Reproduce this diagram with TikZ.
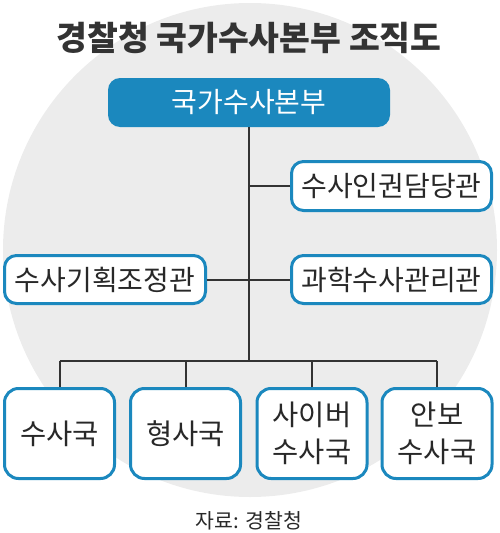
\documentclass[tikz,border=0pt]{standalone}
\usepackage{fontspec}
\newfontfamily\kr{Noto Sans CJK KR}
\definecolor{bluebox}{RGB}{27,136,190}
\definecolor{circgray}{RGB}{236,236,236}
\definecolor{linegray}{RGB}{51,51,51}
\definecolor{textgray}{RGB}{40,40,40}
\begin{document}
\begin{tikzpicture}[x=1pt,y=-1pt,
  topbox/.style={fill=bluebox, draw=none, rounded corners=12pt, minimum width=282pt, minimum height=49pt, inner sep=0pt,
    text=white, font=\kr\fontsize{28}{32}\selectfont},
  subbox/.style={fill=white, draw=bluebox, line width=3pt, rounded corners=12pt, inner sep=0pt,
    text=textgray, font=\kr\fontsize{28}{32}\selectfont},
  bigbox/.style={fill=white, draw=bluebox, line width=3pt, rounded corners=14pt, inner sep=0pt,
    minimum width=110pt, minimum height=90pt, align=center,
    text=textgray, font=\kr\fontsize{28.5}{37}\selectfont},
  conn/.style={draw=linegray, line width=2pt}]
\useasboundingbox (0,0) rectangle (500,533);
\fill[circgray] (250,250) circle (247);
\node[text=linegray, font=\kr\bfseries\fontsize{33.5}{38}\selectfont] (title) at (249,38) {경찰청 국가수사본부 조직도};
\node[topbox] (top) at (249,102.5) {국가수사본부};
\node[subbox, minimum width=200pt, minimum height=49pt] (r1) at (391.5,186) {수사인권담당관};
\node[subbox, minimum width=200pt, minimum height=48pt] (r2) at (391.5,279.5) {과학수사관리관};
\node[subbox, minimum width=201pt, minimum height=48pt] (l1) at (105,279.5) {수사기획조정관};
\node[bigbox] (b1) at (59.5,433.5) {수사국};
\node[bigbox] (b2) at (185.5,433.5) {형사국};
\node[bigbox] (b3) at (312,433.5) {사이버\\수사국};
\node[bigbox] (b4) at (437,433.5) {안보\\수사국};
\coordinate (bus) at (249,361);
\node[text=textgray, font=\kr\fontsize{20.5}{24}\selectfont] (src) at (249,521) {자료: 경찰청};
\draw[conn] (top.south) -- (bus);
\draw[conn] (r1.west) -- (r1.west -| top.south);
\draw[conn] (l1.east) -- (r2.west);
\draw[conn] (b1.north |- bus) -- (b4.north |- bus);
\draw[conn] (b1.north) -- (b1.north |- bus);
\draw[conn] (b2.north) -- (b2.north |- bus);
\draw[conn] (b3.north) -- (b3.north |- bus);
\draw[conn] (b4.north) -- (b4.north |- bus);
\end{tikzpicture}
\end{document}
